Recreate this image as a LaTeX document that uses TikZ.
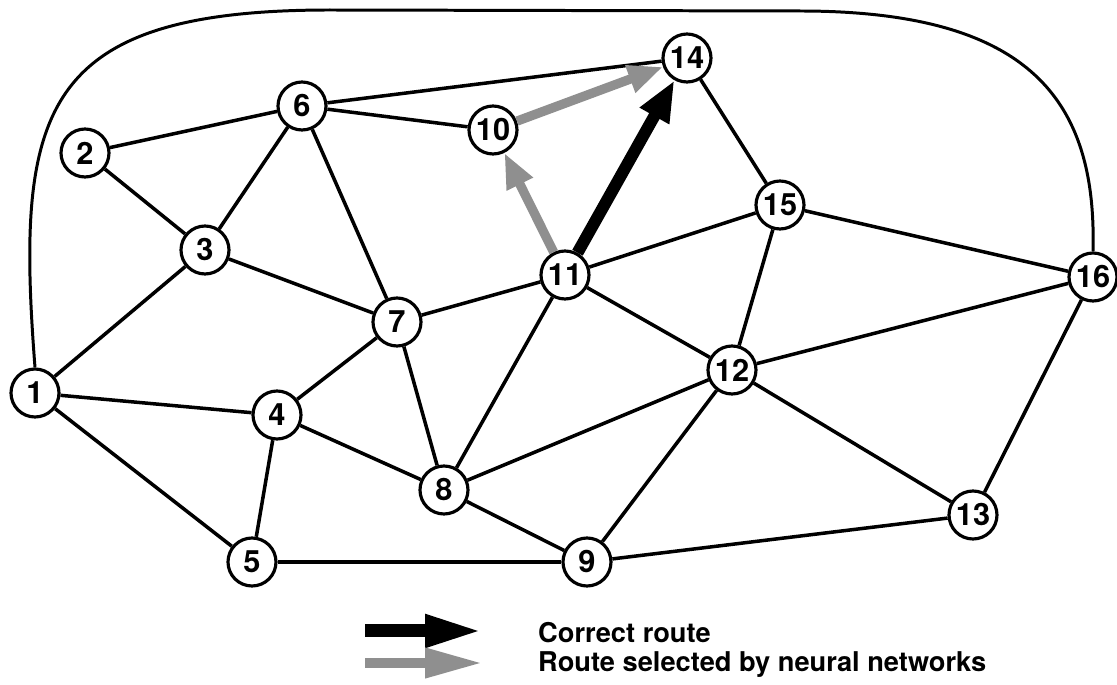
\documentclass[tikz,border=0pt]{standalone}
\usepackage{fontspec}
\setmainfont{TeX Gyre Heros}
\usetikzlibrary{arrows.meta, positioning}
\definecolor{routegray}{gray}{0.56}

\begin{document}
\begin{tikzpicture}[x=0.02cm, y=-0.02cm,
    site/.style={circle, draw, line width=1.8pt, fill=white, minimum size=0.96cm,
        inner sep=0pt, font=\fontsize{17.5}{17.5}\selectfont\bfseries},
    link/.style={line width=2pt},
    correct/.style={line width=6.8pt, -{Triangle[width=0.62cm, length=0.82cm]}},
    chosen/.style={routegray, line width=5.3pt, -{Triangle[width=0.54cm, length=0.7cm]}},
    keytext/.style={anchor=base west, font=\fontsize{15.5}{18}\selectfont\bfseries}]
\useasboundingbox (0,0) rectangle (1117,685);
% nodes of the network
\foreach \i/\px/\py in {1/35/393, 2/85/153, 3/205/250, 4/277/415, 5/252/562,
    6/302/106, 7/397/322, 8/444/490, 9/587/562, 10/493/130, 11/565/275,
    12/732/370, 13/973/515, 14/687/58, 15/780/205, 16/1093/277}
{
    \node[site] (n\i) at (\px,\py) {\i};
}
% links
\foreach \a/\b in {1/3, 1/4, 1/5, 2/6, 2/3, 3/6, 3/7, 6/7, 6/10, 6/14,
    4/7, 4/8, 4/5, 5/9, 7/8, 7/11, 8/11, 8/12, 8/9, 9/12, 9/13,
    11/15, 11/12, 12/15, 12/16, 12/13, 13/16, 14/15, 15/16}
{
    \draw[link] (n\a) -- (n\b);
}
\draw[line width=1.7pt] (n1.north) .. controls (15,110) and (40,10) .. (330,10)
    -- (800,11) .. controls (1030,11) and (1097,100) .. (n16.north);
% routes
\draw[correct] (n11) -- (n14);
\draw[chosen] (n11) -- (n10);
\draw[chosen] (n10) -- (n14);
% legend
\coordinate (keyA) at (365,631);
\coordinate (keyB) at (483,631);
\coordinate (keyC) at (365,663);
\coordinate (keyD) at (483,663);
\draw[line width=7.4pt, -{Triangle[width=0.6cm, length=1.16cm]}] (keyA) -- (keyB);
\draw[routegray, line width=5.7pt, -{Triangle[width=0.56cm, length=1.16cm]}] (keyC) -- (keyD);
\node[keytext] (keyone) at (532,643) {Correct route};
\node[keytext] (keytwo) at (532,672) {Route selected by neural networks};
\end{tikzpicture}
\end{document}
